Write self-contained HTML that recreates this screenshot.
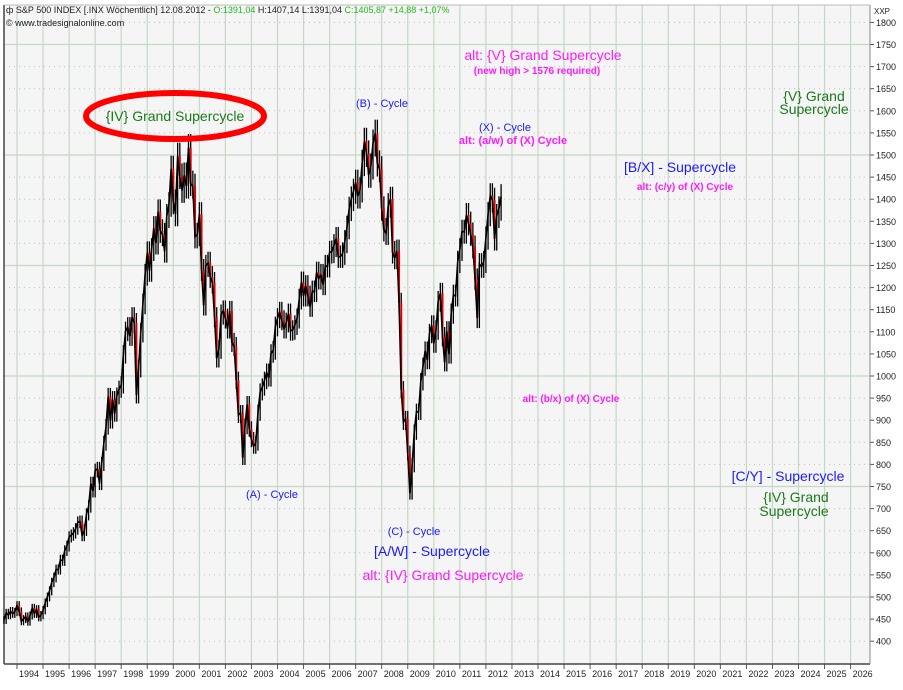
<!DOCTYPE html>
<html><head><meta charset="utf-8"><style>
body{margin:0;background:#fff;width:903px;height:690px;overflow:hidden}
svg{display:block;font-family:"Liberation Sans",sans-serif}
</style></head><body>
<svg id="c" width="903" height="690"></svg>
<script>
const years=[1994,1995,1996,1997,1998,1999,2000,2001,2002,2003,2004,2005,2006,2007,2008,2009,2010,2011,2012,2013,2014,2015,2016,2017,2018,2019,2020,2021,2022,2023,2024,2025,2026];
const priceTicks=[400,450,500,550,600,650,700,750,800,850,900,950,1000,1050,1100,1150,1200,1250,1300,1350,1400,1450,1500,1550,1600,1650,1700,1750,1800];
const startYear=1993.5;
const closes=[448,464,459,468,462,466,
481,467,445,450,456,444,458,475,462,472,454,459,
470,487,500,514,533,544,562,562,584,582,605,615,
636,640,645,654,669,671,639,651,687,705,757,740,
786,790,757,801,848,885,954,899,947,915,955,970,
980,1049,1101,1111,1090,1133,1120,957,1017,1098,1163,1229,
1279,1238,1286,1335,1301,1372,1328,1320,1282,1362,1388,1469,
1394,1366,1498,1452,1420,1454,1430,1517,1436,1429,1315,1320,
1366,1240,1160,1249,1256,1224,1211,1133,1040,1060,1139,1148,
1130,1107,1147,1076,1067,990,912,916,815,886,936,880,
856,841,848,917,964,975,990,1008,996,1051,1058,1112,
1131,1145,1126,1107,1121,1141,1102,1104,1115,1130,1174,1212,
1181,1204,1181,1157,1192,1191,1234,1220,1229,1207,1249,1248,
1280,1281,1295,1311,1270,1270,1277,1304,1336,1378,1401,1418,
1438,1407,1421,1482,1531,1503,1455,1474,1527,1549,1481,1468,
1379,1331,1323,1386,1400,1280,1267,1283,1165,969,896,903,
826,735,798,873,919,919,987,1021,1057,1036,1096,1115,
1074,1104,1169,1187,1089,1031,1102,1049,1141,1183,1181,1258,
1286,1327,1326,1364,1345,1321,1292,1219,1131,1253,1247,1258,
1312,1366,1408,1398,1310,1362,1379,1406];
const ns="http://www.w3.org/2000/svg";
const svg=document.getElementById('c');
const L=4,R=870,T=5,B=664;
function xs(y){return 17+(y-1994)*26.05;}
function ys(v){return 376-(v-1000)*0.442;}
function mk(t,a,p){const e=document.createElementNS(ns,t);for(const k in a)e.setAttribute(k,a[k]);(p||svg).appendChild(e);return e;}
const bg=mk('rect',{x:L,y:T,width:R-L,height:B-T,fill:'#f5f5f5'});


// horizontal grid
priceTicks.forEach(v=>{const y=ys(v);const solid=v%250===0;
 const g=mk('line',{x1:L,x2:R,y1:y,y2:y,stroke:solid?'#c5d8c5':'#c0c0c0','stroke-width':solid?1.2:1,'stroke-dasharray':solid?'':'1,4'});
 
 
 mk('line',{x1:R,x2:R+4,y1:y,y2:y,stroke:'#555'});
 const t=mk('text',{x:R+6,y:y+3.5,'font-size':9,fill:'#222'});t.textContent=v;
 
 
});
years.forEach(yr=>{const x=xs(yr);
 const g=mk('line',{x1:x,x2:x,y1:T,y2:B,stroke:'#c5d8c5','stroke-width':1.2});
 
 
 mk('line',{x1:x,x2:x,y1:B,y2:B+5,stroke:'#555'});
 const t=mk('text',{x:x+2,y:B+13,'font-size':9,fill:'#222'});t.textContent=yr;
 
 
});
mk('line',{x1:L,x2:L,y1:T,y2:B,stroke:'#444','stroke-width':1.5});
mk('line',{x1:L,x2:R,y1:B,y2:B,stroke:'#444','stroke-width':1.5});
mk('line',{x1:R,x2:R,y1:T,y2:B,stroke:'#888'});
mk('line',{x1:L,x2:R,y1:T,y2:T,stroke:'#bbb'});
const xp=mk('text',{x:R+4,y:14,'font-size':8,fill:'#222'});xp.textContent='XXP';


// price series
const gp=mk('g',{});


let pts=[];
for(let i=0;i<closes.length;i++){
 const x=xs(startYear+i/12);const c=closes[i];const p=i>0?closes[i-1]:c;
 const hi=Math.max(c,p)*1.02, lo=Math.min(c,p)*0.98;
 const bar=mk('line',{x1:x,x2:x,y1:ys(hi),y2:ys(lo),stroke:'#000','stroke-width':1.3},gp);
 
 
 if(c<p){const r=mk('rect',{x:x-1,y:ys(p),width:2,height:Math.max(1,ys(c)-ys(p)),fill:'#e00000'},gp);
  
  }
 pts.push(x+','+ys(c));
}
mk('polyline',{points:pts.join(' '),fill:'none',stroke:'#000','stroke-width':1.6},gp);
// labels
const labs=[
 ['{IV} Grand Supercycle',175,121,14,'#1a7a1a','normal','iv-label'],
 ['(B) - Cycle',382,107,11,'#1a1aff','normal','b-cycle-label'],
 ['alt: {V} Grand Supercycle',543,60,14,'#ff1aff','normal','alt-v-label'],
 ['(new high > 1576 required)',537,74,10,'#ff1aff','bold','new-high-note'],
 ['(X) - Cycle',505,131,11,'#1a1aff','normal','x-cycle-label'],
 ['alt: (a/w) of (X) Cycle',513,144,11,'#ff1aff','bold','alt-aw-label'],
 ['[B/X] - Supercycle',680,172,14,'#1a1aff','normal','bx-label'],
 ['alt: (c/y) of (X) Cycle',685,190,10,'#ff1aff','bold','alt-cy-label'],
 ['{V} Grand',814,101,14,'#1a7a1a','normal','v-grand-label'],
 ['Supercycle',814,114,14,'#1a7a1a','normal','v-grand-label-2'],
 ['alt: (b/x) of (X) Cycle',571,402,10,'#ff1aff','bold','alt-bx-label'],
 ['(A) - Cycle',272,498,11,'#1a1aff','normal','a-cycle-label'],
 ['(C) - Cycle',414,535,11,'#1a1aff','normal','c-cycle-label'],
 ['[A/W] - Supercycle',432,556,14,'#1a1aff','normal','aw-label'],
 ['alt: {IV} Grand Supercycle',443,580,14,'#ff1aff','normal','alt-iv-label'],
 ['[C/Y] - Supercycle',788,481,14,'#1a1aff','normal','cy-label'],
 ['{IV} Grand',796,502,14,'#1a7a1a','normal','iv-grand-label'],
 ['Supercycle',794,516,14,'#1a7a1a','normal','iv-grand-label-2']
];
labs.forEach(l=>{const t=mk('text',{x:l[1],y:l[2],'font-size':l[3],fill:l[4],'font-weight':l[5],'text-anchor':'middle'});t.textContent=l[0];
 
 });
const el=mk('ellipse',{cx:175,cy:116,rx:89,ry:23,fill:'none',stroke:'#ff0000','stroke-width':6});


// header
const h=mk('text',{x:6,y:13,'font-size':9,fill:'#222'});


h.innerHTML='ф S&amp;P 500 INDEX [.INX  Wöchentlich] 12.08.2012 - <tspan fill="#22bb22">O:1391,04</tspan> H:1407,14 L:1391,04 <tspan fill="#22bb22">C:1405,87 +14,88 +1,07%</tspan>';
const h2=mk('text',{x:6,y:26,'font-size':9,fill:'#222'});h2.textContent='© www.tradesignalonline.com';


</script>
</body></html>
